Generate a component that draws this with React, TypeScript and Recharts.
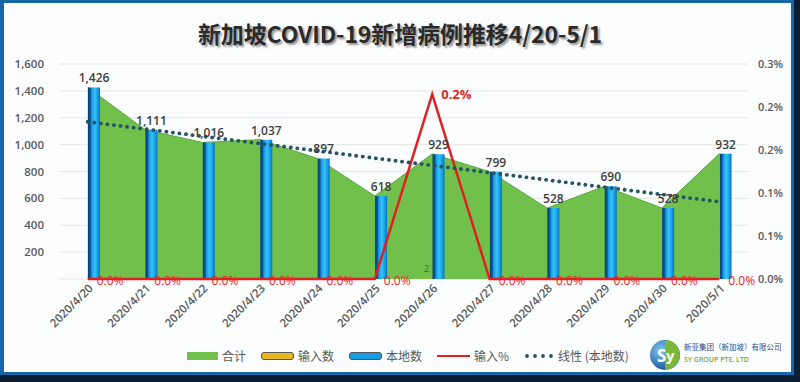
import React from 'react';
import { ComposedChart, Area, Bar, Line, XAxis, YAxis, CartesianGrid, LabelList } from 'recharts';

const dates = [
  '2020/4/20', '2020/4/21', '2020/4/22', '2020/4/23', '2020/4/24', '2020/4/25',
  '2020/4/26', '2020/4/27', '2020/4/28', '2020/4/29', '2020/4/30', '2020/5/1',
];
const localCases = [1426, 1111, 1016, 1037, 897, 618, 929, 799, 528, 690, 528, 932];
const importedCases = [0, 0, 0, 0, 0, 0, 2, 0, 0, 0, 0, 0];
const totalCases = [1426, 1111, 1016, 1037, 897, 618, 931, 799, 528, 690, 528, 932];
const importedPct = [0, 0, 0, 0, 0, 0, 0.00215, 0, 0, 0, 0, 0];
// linear trend of local cases, read at its two ends
const trendLocal = [1170, null, null, null, null, null, null, null, null, null, null, 575];

const leftTicks = [0, 200, 400, 600, 800, 1000, 1200, 1400, 1600];
const rightTicks = [0, 0.0005, 0.001, 0.0015, 0.002, 0.0025];
const rightTickLabels = ['0.0%', '0.1%', '0.1%', '0.2%', '0.2%', '0.3%'];

const data = dates.map((d, i) => ({
  date: d,
  total: totalCases[i],
  imported: importedCases[i],
  local: localCases[i],
  pct: importedPct[i],
  trend: trendLocal[i],
}));

const FONT = '"Open Sans", "Noto Sans CJK SC", sans-serif';
const GREY = '#595959';

const DateTick = (props: any) => {
  const { x, y, payload } = props;
  const ax = x + 6;
  const ay = y + 2;
  return (
    <text x={ax} y={ay} transform={`rotate(-45, ${ax}, ${ay})`} textAnchor="end"
      fontSize={11.5} fontWeight={600} fill={GREY} fontFamily={FONT}>
      {payload.value}
    </text>
  );
};

const PctLabel = (props: any) => {
  const { x, y, value } = props;
  const peak = value > 0;
  return (
    <text x={x + 9} y={y + (peak ? 5 : 6)} fill="#e8251f" fontSize={peak ? 13 : 12}
      fontWeight={peak ? 700 : 400} fontFamily={FONT}>
      {(value * 100).toFixed(1) + '%'}
    </text>
  );
};

const ImportLabel = (props: any) => {
  const { x, y, width, value } = props;
  if (!value) return null;
  return (
    <text x={x + width / 2} y={y - 7} textAnchor="middle" fill="#3d6b2a" fontSize={9} fontFamily={FONT}>
      {value}
    </text>
  );
};

const legendItems = [
  { name: '合计', kind: 'area', color: '#70c04b' },
  { name: '输入数', kind: 'bar', color: '#e8b820' },
  { name: '本地数', kind: 'bar', color: '#1a9be2' },
  { name: '输入%', kind: 'line', color: '#e02020' },
  { name: '线性 (本地数)', kind: 'dots', color: '#255466' },
];

const LegendIcon = ({ kind, color }: { kind: string; color: string }) => {
  if (kind === 'area') return <span style={{ display: 'inline-block', width: 31, height: 8, background: color }} />;
  if (kind === 'bar')
    return <span style={{ display: 'inline-block', width: 31, height: 6, background: color, border: '1px solid #555', borderRadius: 3 }} />;
  if (kind === 'line') return <span style={{ display: 'inline-block', width: 33, height: 2, background: color }} />;
  return (
    <svg width={30} height={6}>
      {[3, 11, 19, 27].map((cx) => <circle key={cx} cx={cx} cy={3} r={1.9} fill={color} />)}
    </svg>
  );
};

export default function App() {
  return (
    <div style={{ position: 'fixed', left: 0, top: 0, width: 800, height: 382, background: '#0b1e33', overflow: 'hidden' }}>
      <div style={{ position: 'absolute', left: 0, top: 0, width: 794, height: 375, background: '#1766a8' }} />
      <div style={{ position: 'absolute', left: 4, top: 3, width: 787, height: 369, background: '#fbfdff' }} />
      <div style={{
        position: 'absolute', left: 0, top: 16, width: 800, textAlign: 'center', fontFamily: '"Noto Sans CJK SC", sans-serif',
        fontSize: 23, fontWeight: 700, color: '#2a2a2a', textShadow: '2px 2px 2px #9a9a9a', letterSpacing: -0.1,
      }}>
        新加坡COVID-19新增病例推移4/20-5/1
      </div>
      <div style={{ position: 'absolute', left: 0, top: 0 }}>
        <ComposedChart width={800} height={382} data={data} margin={{ top: 64, right: 7, bottom: 43, left: 9 }}
          barGap={0} barSize={12}>
          <defs>
            <linearGradient id="blueBar" x1="0" y1="0" x2="1" y2="0">
              <stop offset="0" stopColor="#0b3f70" />
              <stop offset="0.2" stopColor="#0c5595" />
              <stop offset="0.3" stopColor="#0f9ae6" />
              <stop offset="0.55" stopColor="#3cc0f6" />
              <stop offset="0.8" stopColor="#12a2ea" />
              <stop offset="1" stopColor="#0a70b8" />
            </linearGradient>
          </defs>
          <CartesianGrid yAxisId="left" vertical={false} stroke="#e6e6e6" />
          <XAxis dataKey="date" axisLine={false} tickLine={false} height={60} interval={0} tick={<DateTick />} />
          <YAxis yAxisId="left" width={50} domain={[0, 1600]} ticks={leftTicks} axisLine={false} tickLine={false}
            tickMargin={9} interval={0}
            tick={{ fontSize: 11.5, fontWeight: 600, fill: GREY, fontFamily: FONT }}
            tickFormatter={(v: number) => (v === 0 ? '' : v.toLocaleString('en-US'))} />
          <YAxis yAxisId="right" orientation="right" width={45} domain={[0, 0.0025]} ticks={rightTicks}
            axisLine={false} tickLine={false} tickMargin={4} interval={0}
            tick={{ fontSize: 11, fontWeight: 600, fill: GREY, fontFamily: FONT, textAnchor: 'start' }}
            tickFormatter={(v: number, i: number) => rightTickLabels[i]} />
          <Area yAxisId="left" dataKey="total" type="linear" fill="#70c04b" fillOpacity={1} stroke="#5aa83c"
            strokeWidth={1} isAnimationActive={false} />
          <Bar yAxisId="left" dataKey="imported" fill="#e8b820" isAnimationActive={false}>
            <LabelList dataKey="imported" content={<ImportLabel />} />
          </Bar>
          <Bar yAxisId="left" dataKey="local" fill="url(#blueBar)" isAnimationActive={false}>
            <LabelList dataKey="local" position="top" offset={5} fill="#404040" fontSize={12} fontWeight={600}
              fontFamily={FONT} formatter={(v: any) => Number(v).toLocaleString('en-US')} />
          </Bar>
          <Line yAxisId="right" dataKey="pct" type="linear" stroke="#e02020" strokeWidth={2.5} dot={false}
            isAnimationActive={false}>
            <LabelList dataKey="pct" content={<PctLabel />} />
          </Line>
          <Line yAxisId="left" dataKey="trend" type="linear" connectNulls stroke="#255466" strokeWidth={3.8}
            strokeDasharray="0.1 6.5" strokeLinecap="round" dot={false} isAnimationActive={false} />
        </ComposedChart>
      </div>
      <div style={{ position: 'absolute', left: 187, top: 347, display: 'flex', alignItems: 'center', fontFamily: '"Noto Sans CJK SC", sans-serif', fontSize: 12, color: GREY }}>
        {legendItems.map((it) => (
          <div key={it.name} style={{ display: 'flex', alignItems: 'center', marginRight: 15 }}>
            <LegendIcon kind={it.kind} color={it.color} />
            <span style={{ marginLeft: 4 }}>{it.name}</span>
          </div>
        ))}
      </div>
      <svg style={{ position: 'absolute', left: 648, top: 338 }} width={140} height={34}>
        <defs>
          <radialGradient id="logo" cx="0.35" cy="0.35" r="0.7">
            <stop offset="0" stopColor="#7ec8f0" />
            <stop offset="1" stopColor="#1a4f9a" />
          </radialGradient>
        </defs>
        <circle cx={17} cy={17} r={15} fill="url(#logo)" />
        <path d="M17 2 A15 15 0 0 1 17 32 Z" fill="#7ab83a" />
        <text x={9} y={24} fill="#fff" fontSize={17} fontWeight={700} fontFamily={FONT}>S</text>
        <text x={18} y={23} fill="#fff" fontSize={15} fontWeight={700} fontFamily={FONT}>y</text>
        <text x={36} y={12} fill="#2d4d8a" fontSize={7.5} fontFamily='"Noto Sans CJK SC", sans-serif'>新亚集团（新加坡）有限公司</text>
        <text x={36} y={24} fill="#7aa83a" fontSize={7} fontWeight={600} fontFamily={FONT}>SY GROUP PTE. LTD</text>
      </svg>
    </div>
  );
}
